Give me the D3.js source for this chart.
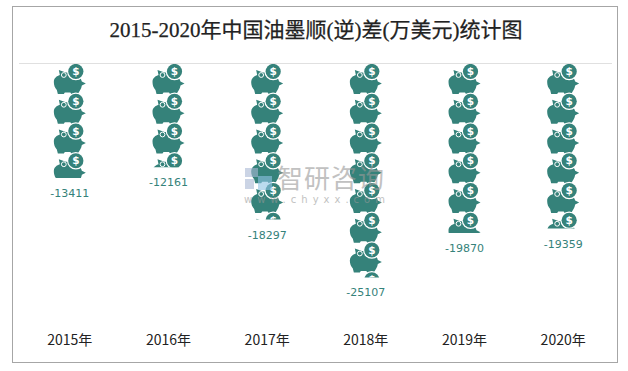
<!DOCTYPE html>
<html>
<head>
<meta charset="utf-8">
<script src="https://cdnjs.cloudflare.com/ajax/libs/d3/7.8.5/d3.min.js"></script>
<style>
  html, body { margin: 0; padding: 0; background: #fff; }
  svg { display: block; }
</style>
</head>
<body>
<script>
const years = ["2015年", "2016年", "2017年", "2018年", "2019年", "2020年"];
const values = [-13411, -12161, -18297, -25107, -19870, -19359];
const symbolValue = 3500; // one pig = 3500

const width = 628, height = 371;
const teal = "#35827a";

const svg = d3.select("body").append("svg")
  .attr("width", width)
  .attr("height", height);

// outer frame
svg.append("rect")
  .attr("x", 12.5).attr("y", 6.5)
  .attr("width", 605).attr("height", 356)
  .attr("fill", "#fff").attr("stroke", "#a6a6a6");

svg.append("text")
  .attr("x", 316).attr("y", 37)
  .attr("text-anchor", "middle")
  .attr("font-family", "'Liberation Serif', 'Noto Sans CJK SC'")
  .attr("font-size", 21)
  .attr("stroke", "#222").attr("stroke-width", 0.25)
  .attr("fill", "#222")
  .text("2015-2020年中国油墨顺(逆)差(万美元)统计图");

const x = d3.scaleBand().domain(years).range([20.5, 612.5]);
const y = d3.scaleLinear().domain([0, -30000]).range([64, 319]);

// pig icon, 32 x 30 around its top left corner
const defs = svg.append("defs");
const pig = defs.append("g").attr("id", "pig");
pig.append("path")
  .attr("d", "M0 18C0 14 3 12 6 11L5 6L12 8.5C20 8 27 12 28 17.5L32 19.5L28 21.5C27.5 25 25.5 27 24 30L17.5 30L16.5 28.5L11 28.5L10 30L4 30L3 26C1 24 0 21 0 18Z")
  .attr("fill", teal);
pig.append("circle").attr("cx", 10).attr("cy", 11).attr("r", 2.4).attr("fill", "none")
  .attr("stroke", "#fff").attr("stroke-width", 1);
pig.append("circle").attr("cx", 22).attr("cy", 7.5).attr("r", 8.8).attr("fill", "#fff");
pig.append("circle").attr("cx", 22).attr("cy", 7.5).attr("r", 7.6).attr("fill", teal);
pig.append("text").attr("x", 22).attr("y", 11.2)
  .attr("text-anchor", "middle")
  .attr("font-family", "'DejaVu Sans'").attr("font-weight", "bold")
  .attr("font-size", 10.5).attr("fill", "#fff").text("$");

// 剪裁到数值位置
defs.selectAll("clipPath").data(values).join("clipPath")
  .attr("id", (d, i) => "clip" + i)
  .append("rect")
  .attr("x", (d, i) => x(years[i]))
  .attr("y", y(0))
  .attr("width", x.bandwidth())
  .attr("height", d => y(d) - y(0));

const cols = svg.selectAll("g.col").data(values).join("g")
  .attr("class", "col")
  .attr("clip-path", (d, i) => `url(#clip${i})`);

cols.each(function (d, i) {
  const count = Math.ceil(-d / symbolValue);
  d3.select(this).selectAll("use").data(d3.range(count)).join("use")
    .attr("href", "#pig")
    .attr("x", x(years[i]) + x.bandwidth() / 2 - 16)
    .attr("y", n => y(-n * symbolValue));
});

// grid line at zero
svg.append("line")
  .attr("x1", 19).attr("x2", 612)
  .attr("y1", y(0) - 0.5).attr("y2", y(0) - 0.5)
  .attr("stroke", "#e0e0e0");

svg.selectAll("text.val").data(values).join("text")
  .attr("class", "val")
  .attr("x", (d, i) => x(years[i]) + x.bandwidth() / 2)
  .attr("y", d => y(d) + 19)
  .attr("text-anchor", "middle")
  .attr("font-family", "'DejaVu Sans'")
  .attr("font-size", 11)
  .attr("fill", teal)
  .text(d => d);

const axis = svg.append("g")
  .attr("transform", "translate(0,332)")
  .call(d3.axisBottom(x).tickSize(0).tickPadding(3));
axis.select(".domain").remove();
axis.selectAll("text")
  .attr("font-family", "'Noto Sans CJK SC'")
  .attr("font-size", 14)
  .attr("fill", "#222");

// watermark
const mark = svg.append("g").attr("opacity", 0.6);
mark.append("rect").attr("x", 245).attr("y", 168).attr("width", 13).attr("height", 9).attr("fill", "#a9b8d4");
mark.append("rect").attr("x", 245).attr("y", 179).attr("width", 9).attr("height", 10).attr("fill", "#a9b8d4");
mark.append("rect").attr("x", 258).attr("y", 176).attr("width", 14).attr("height", 14).attr("fill", "#8fc4e6");
mark.append("text").attr("x", 277).attr("y", 188)
  .attr("font-family", "'Noto Sans CJK SC'").attr("font-size", 26)
  .attr("letter-spacing", 1)
  .attr("fill", "#999").text("智研咨询");
mark.append("text").attr("x", 244).attr("y", 203)
  .attr("font-family", "'DejaVu Sans'").attr("font-size", 10)
  .attr("letter-spacing", 5)
  .attr("fill", "#999").text("www.chyxx.com");
</script>
</body>
</html>
